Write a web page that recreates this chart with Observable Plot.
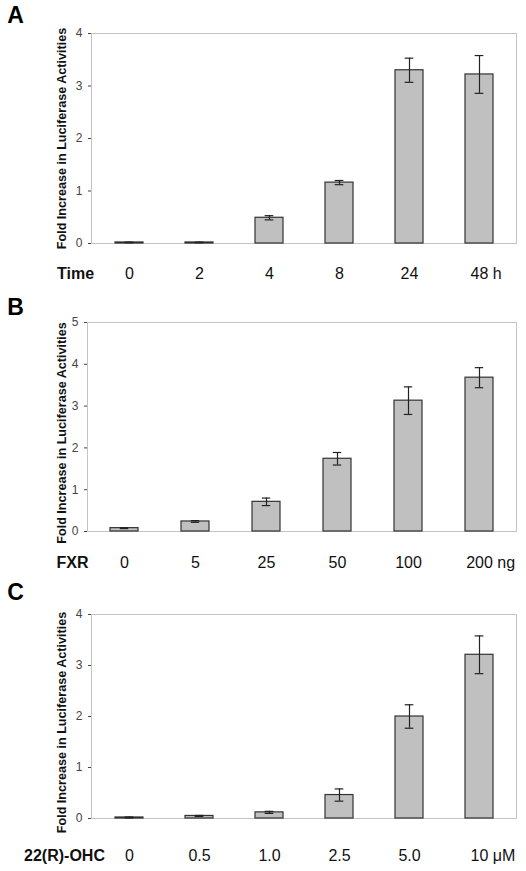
<!DOCTYPE html>
<html>
<head>
<meta charset="utf-8">
<script src="https://cdn.jsdelivr.net/npm/d3@7"></script>
<script src="https://cdn.jsdelivr.net/npm/@observablehq/plot@0.6"></script>
<style>
  body { margin: 0; background: #fff; }
  #root { width: 526px; }
  #root svg { display: block; }
</style>
</head>
<body>
<div id="root"></div>
<script>
// ---- data ----
const yLabel = "Fold Increase in Luciferase Activities";

const timeTitle = "Time";
const timeUnit = "h";
const timeCats = ["0", "2", "4", "8", "24", "48"];
const timeVals = [0.02, 0.02, 0.49, 1.16, 3.30, 3.22];
const timeErr  = [0.005, 0.005, 0.04, 0.04, 0.23, 0.36];
const timeTicks = [0, 1, 2, 3, 4];

const fxrTitle = "FXR";
const fxrUnit = "ng";
const fxrCats = ["0", "5", "25", "50", "100", "200"];
const fxrVals = [0.08, 0.24, 0.71, 1.74, 3.13, 3.68];
const fxrErr  = [0.01, 0.02, 0.09, 0.15, 0.33, 0.24];
const fxrTicks = [0, 1, 2, 3, 4, 5];

const ohcTitle = "22(R)-OHC";
const ohcUnit = "μM";
const ohcCats = ["0", "0.5", "1.0", "2.5", "5.0", "10"];
const ohcVals = [0.02, 0.05, 0.12, 0.46, 2.00, 3.21];
const ohcErr  = [0.01, 0.01, 0.02, 0.12, 0.23, 0.37];
const ohcTicks = [0, 1, 2, 3, 4];

// ---- layout (positions / styles) ----
const FONT = "'Liberation Sans', Arial, Helvetica, sans-serif";
const W = 526;
const panels = [
  {letter: "A", title: timeTitle, unit: timeUnit, cats: timeCats, vals: timeVals, err: timeErr, ticks: timeTicks,
   height: 280, mt: 33, mb: 37, ml: 91, mr: 10, letterDx: -76, letterDy: -17.5, labelDy: 30, titleX: 75, yLabDy: 0},
  {letter: "B", title: fxrTitle, unit: fxrUnit, cats: fxrCats, vals: fxrVals, err: fxrErr, ticks: fxrTicks,
   height: 290, mt: 42, mb: 39, ml: 87, mr: 10, letterDx: -72, letterDy: -15, labelDy: 31, titleX: 72, yLabDy: 6},
  {letter: "C", title: ohcTitle, unit: ohcUnit, cats: ohcCats, vals: ohcVals, err: ohcErr, ticks: ohcTicks,
   height: 301, mt: 44, mb: 53, ml: 91, mr: 10, letterDx: -76, letterDy: -21.5, labelDy: 37, titleX: 64, yLabDy: 6}
];

const ctx = document.createElement("canvas").getContext("2d");
function textWidth(t, size) {
  ctx.font = `${size}px ${FONT}`;
  return ctx.measureText(t).width;
}

const root = document.getElementById("root");
for (const p of panels) {
  const data = p.cats.map((c, i) => ({cat: c, v: p.vals[i], e: p.err[i]}));
  const step = (W - p.ml - p.mr) / p.cats.length;
  const bw = step * 0.4;
  const cap = Math.max(0, (bw - 9) / 2);
  const last = p.cats[p.cats.length - 1];
  const unitDx = textWidth(last, 16) / 2 + textWidth(" ", 16);
  const yLabX = 61 - p.ml;

  const svg = Plot.plot({
    width: W,
    height: p.height,
    marginTop: p.mt,
    marginBottom: p.mb,
    marginLeft: p.ml,
    marginRight: p.mr,
    style: {fontFamily: FONT, background: "#fff", overflow: "visible"},
    x: {type: "band", domain: p.cats, paddingInner: 0.6, paddingOuter: 0.3, axis: null},
    y: {domain: [0, p.ticks[p.ticks.length - 1]], axis: null},
    marks: [
      Plot.frame({stroke: "#c4c4c4", strokeWidth: 1}),
      Plot.axisY({ticks: p.ticks, tickSize: 3, tickPadding: 6, fontSize: 12, color: "#444", label: null, tickFormat: d3.format("d")}),
      Plot.barY(data, {x: "cat", y: "v", fill: "#c0c0c0", stroke: "#333", strokeWidth: 1.2}),
      Plot.ruleX(data, {x: "cat", y1: d => d.v - d.e, y2: d => d.v + d.e, stroke: "#222", strokeWidth: 1.2}),
      Plot.tickY(data, {x: "cat", y: d => d.v + d.e, insetLeft: cap, insetRight: cap, stroke: "#222", strokeWidth: 1.2}),
      Plot.tickY(data, {x: "cat", y: d => d.v - d.e, insetLeft: cap, insetRight: cap, stroke: "#222", strokeWidth: 1.2}),
      // category labels below
      Plot.text(p.cats, {x: d => d, text: d => d, frameAnchor: "bottom", lineAnchor: "middle", dy: p.labelDy, fontSize: 16, fill: "#111"}),
      Plot.text([p.unit], {x: () => last, text: d => d, frameAnchor: "bottom", lineAnchor: "middle", dy: p.labelDy, dx: unitDx, textAnchor: "start", fontSize: 16, fill: "#111"}),
      Plot.text([p.title], {frameAnchor: "bottom-left", lineAnchor: "middle", dx: p.titleX - p.ml, dy: p.labelDy, text: d => d, textAnchor: "middle", fontSize: 16, fontWeight: "bold", fill: "#111"}),
      // y label
      Plot.text([yLabel], {frameAnchor: "left", rotate: -90, dx: yLabX, dy: p.yLabDy, text: d => d, textAnchor: "middle", lineAnchor: "middle", fontSize: 12.6, fontWeight: "bold", fill: "#111"}),
      // panel letter
      Plot.text([p.letter], {frameAnchor: "top-left", lineAnchor: "middle", dx: p.letterDx, dy: p.letterDy, text: d => d, textAnchor: "middle", fontSize: 23, fontWeight: "bold", fill: "#000"})
    ]
  });
  root.appendChild(svg);
}
</script>
</body>
</html>
